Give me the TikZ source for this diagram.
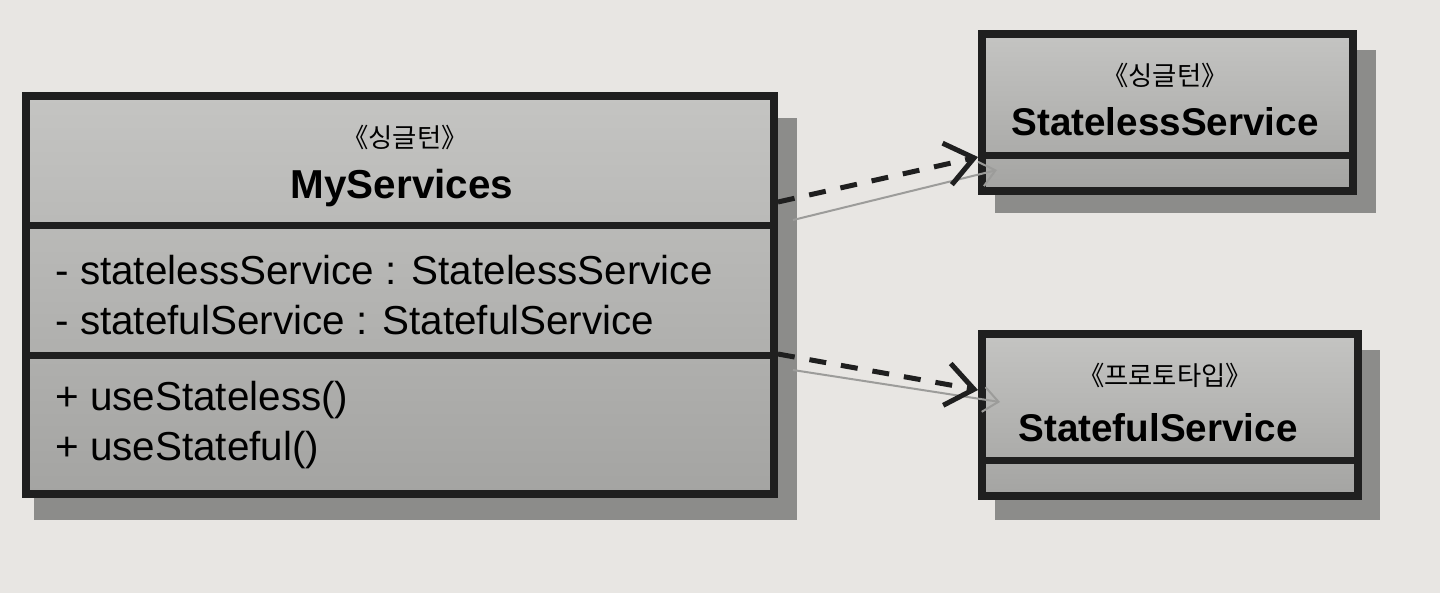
\documentclass[tikz,border=0pt]{standalone}
\usepackage{fontspec}
\setmainfont{Liberation Sans}
\newfontfamily\krfont{Noto Sans CJK KR}
\usetikzlibrary{arrows.meta}
\definecolor{paper}{HTML}{E8E6E3}
\definecolor{ink}{HTML}{1F1F1F}
\definecolor{boxtop}{HTML}{C4C4C2}
\definecolor{boxbot}{HTML}{A4A4A2}
\definecolor{boxshadow}{HTML}{8C8C8A}
\definecolor{ghostline}{HTML}{9C9C9A}

\begin{document}
\begin{tikzpicture}[x=0.02cm,y=-0.02cm,
    umlbox/.style={draw=ink,line width=0.16cm,top color=boxtop,bottom color=boxbot,inner sep=0pt},
    rule/.style={draw=ink,line width=0.14cm},
    dep/.style={draw=ink,line width=0.1cm,dash pattern=on 0.34cm off 0.3cm,
        -{Straight Barb[length=0.55cm,width=0.85cm]}},
    ghost/.style={draw=ghostline,line width=0.04cm,-{Straight Barb[length=0.3cm,width=0.5cm]}},
    stereo/.style={font={\krfont\fontsize{15}{17}\selectfont}},
    cname/.style={font={\bfseries\fontsize{23}{26}\selectfont}},
    member/.style={anchor=west,inner sep=0pt,font={\fontsize{23}{26}\selectfont}}]
                \useasboundingbox (0,0) rectangle (1440,593);
                \fill[paper] (0,0) rectangle (1440,593);

                % shadows
                \fill[boxshadow] (34,118) rectangle (797,520);
                \fill[boxshadow] (995,50) rectangle (1376,213);
                \fill[boxshadow] (995,350) rectangle (1380,520);

                % classes
                \node[umlbox,minimum width=14.96cm,minimum height=7.96cm] (my) at (400,295) {};
                \node[umlbox,minimum width=7.42cm,minimum height=3.14cm] (sless) at (1167.5,112.5) {};
                \node[umlbox,minimum width=7.52cm,minimum height=3.24cm] (sful) at (1170,415) {};

                \draw[rule] (my.west |- 0,225) -- (my.east |- 0,225);
                \draw[rule] (my.west |- 0,355) -- (my.east |- 0,355);
                \draw[rule] (sless.west |- 0,155) -- (sless.east |- 0,155);
                \draw[rule] (sful.west |- 0,460) -- (sful.east |- 0,460);

                \node[stereo] (mystereo) at (405,137) {《싱글턴》};
                \node[cname] (myname) at (402,188) {MyServices};
                \node[member] (attrless) at (55,270) {- statelessService : StatelessService};
                \node[member] (attrful) at (55,320) {- statefulService : StatefulService};
                \node[member] (oples) at (55,400) {+ useStateless()};
                \node[member] (opful) at (55,450) {+ useStateful()};

                \node[stereo] (slessstereo) at (1165,75) {《싱글턴》};
                \node[cname,font={\bfseries\fontsize{22}{26}\selectfont}] (slessname) at (1165,122) {StatelessService};
                \node[stereo] (sfulstereo) at (1165,375) {《프로토타입》};
                \node[cname,font={\bfseries\fontsize{22}{26}\selectfont}] (sfulname) at (1158,428) {StatefulService};

                % dependencies
                \coordinate (g1a) at (793,220);
                \coordinate (g1b) at (997,170);
                \coordinate (g2a) at (793,370);
                \coordinate (g2b) at (1000,402);
                \draw[ghost] (g1a) -- (g1b);
                \draw[ghost] (g2a) -- (g2b);
                \draw[dep] (my.east |- 0,202) -- (sless.west |- 0,157);
                \draw[dep] (my.east |- 0,354) -- (sful.west |- 0,390);
\end{tikzpicture}
\end{document}
